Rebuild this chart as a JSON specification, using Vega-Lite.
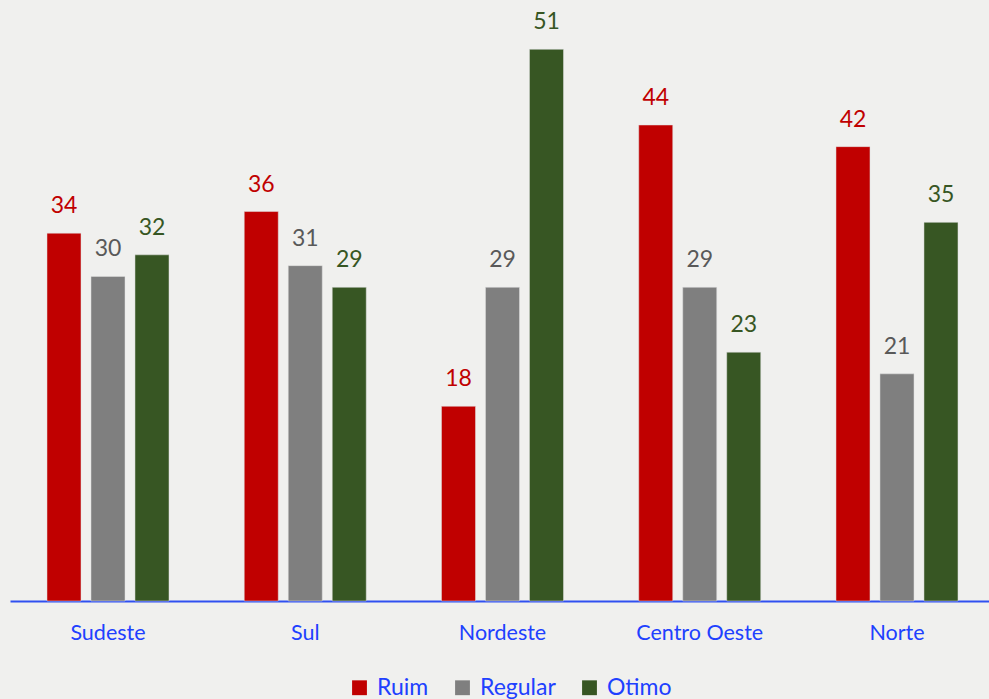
{
  "$schema": "https://vega.github.io/schema/vega-lite/v6.json",
  "width": 979,
  "height": 595,
  "autosize": {"type": "none"},
  "padding": {"left": 10, "top": 6, "right": 0, "bottom": 98},
  "background": "#f0f0ee",
  "config": {
    "view": {"stroke": null},
    "font": "Lato"
  },
  "data": {
    "values": [
      {"regiao": "Sudeste", "cat": "Ruim", "v": 34},
      {"regiao": "Sudeste", "cat": "Regular", "v": 30},
      {"regiao": "Sudeste", "cat": "Otimo", "v": 32},
      {"regiao": "Sul", "cat": "Ruim", "v": 36},
      {"regiao": "Sul", "cat": "Regular", "v": 31},
      {"regiao": "Sul", "cat": "Otimo", "v": 29},
      {"regiao": "Nordeste", "cat": "Ruim", "v": 18},
      {"regiao": "Nordeste", "cat": "Regular", "v": 29},
      {"regiao": "Nordeste", "cat": "Otimo", "v": 51},
      {"regiao": "Centro Oeste", "cat": "Ruim", "v": 44},
      {"regiao": "Centro Oeste", "cat": "Regular", "v": 29},
      {"regiao": "Centro Oeste", "cat": "Otimo", "v": 23},
      {"regiao": "Norte", "cat": "Ruim", "v": 42},
      {"regiao": "Norte", "cat": "Regular", "v": 21},
      {"regiao": "Norte", "cat": "Otimo", "v": 35}
    ]
  },
  "encoding": {
    "x": {
      "field": "regiao", "type": "nominal",
      "sort": ["Sudeste", "Sul", "Nordeste", "Centro Oeste", "Norte"],
      "scale": {"paddingInner": 0.3815, "paddingOuter": 0.1724, "align": 0.544},
      "axis": {
        "title": null, "labelAngle": 0, "ticks": false, "grid": false,
        "domainColor": "#3050f0", "domainWidth": 2,
        "labelColor": "#2040ff", "labelFontSize": 21.5, "labelPadding": 21,
        "labelFont": "Lato"
      }
    },
    "xOffset": {
      "field": "cat", "type": "nominal",
      "sort": ["Ruim", "Regular", "Otimo"],
      "scale": {"paddingInner": 0.227, "paddingOuter": 0}
    },
    "y": {
      "field": "v", "type": "quantitative",
      "scale": {"domain": [0, 55], "nice": false},
      "axis": null
    }
  },
  "layer": [
    {
      "mark": {"type": "bar", "stroke": "#e0e0e0", "strokeWidth": 0.5},
      "encoding": {
        "color": {
          "field": "cat", "type": "nominal",
          "sort": ["Ruim", "Regular", "Otimo"],
          "scale": {"domain": ["Ruim", "Regular", "Otimo"], "range": ["#c00000", "#7f7f7f", "#375623"]},
          "legend": {
            "title": null, "orient": "none", "direction": "horizontal",
            "legendX": 338, "legendY": 670,
            "symbolType": "square", "symbolSize": 220, "symbolStrokeWidth": 0,
            "labelColor": "#2040ff", "labelFontSize": 23, "labelFont": "Lato",
            "columnPadding": 22, "labelOffset": 6
          }
        }
      }
    },
    {
      "mark": {"type": "text", "dy": -27, "fontSize": 23, "font": "Lato"},
      "encoding": {
        "text": {"field": "v", "type": "quantitative"},
        "color": {
          "field": "cat", "type": "nominal",
          "scale": {"domain": ["Ruim", "Regular", "Otimo"], "range": ["#c00000", "#595959", "#375623"]},
          "legend": null
        }
      }
    }
  ],
  "resolve": {"scale": {"color": "independent"}}
}
